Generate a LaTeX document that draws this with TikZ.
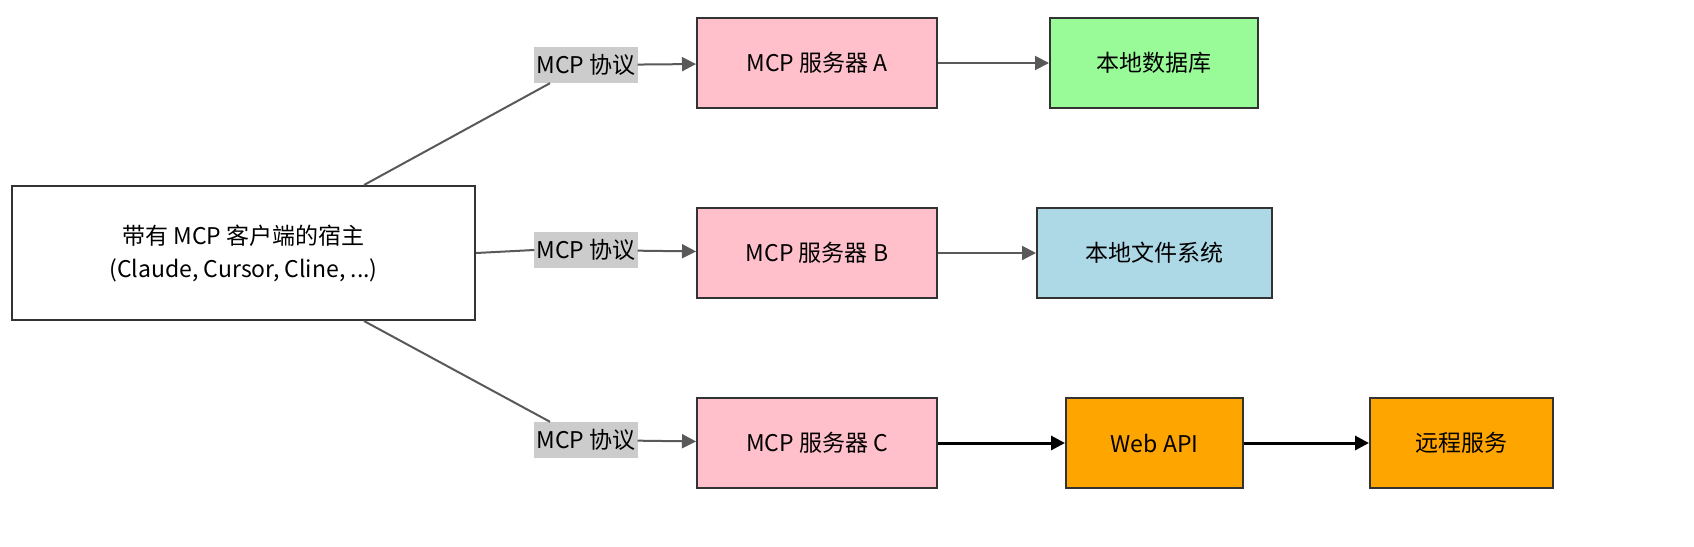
\documentclass[tikz,border=0pt]{standalone}
\usepackage{fontspec}
\setmainfont{Noto Sans CJK SC}
\usetikzlibrary{arrows.meta}
\definecolor{myorange}{HTML}{FFA500}
\definecolor{mypink}{HTML}{FFC0CB}
\definecolor{mygreen}{HTML}{98FB98}
\definecolor{myblue}{HTML}{ADD8E6}
\begin{document}
\begin{tikzpicture}[x=1pt,y=-1pt,
 box/.style={draw=black!80,line width=2pt,minimum height=90pt,align=center,font=\fontsize{23}{33}\selectfont,inner sep=0pt},
 lab/.style={fill=black!20,inner sep=2pt,font=\fontsize{23}{26}\selectfont,minimum height=36pt},
 con/.style={draw=black!65,line width=2pt},
 arr/.style={con,-{Triangle[length=14pt,width=14pt]}},
 barr/.style={draw=black,line width=3pt,-{Triangle[length=14pt,width=14pt]}}]
\node[box,fill=white,minimum width=463pt,minimum height=134pt] (h) at (243.5,253) {带有 MCP 客户端的宿主\\(Claude, Cursor, Cline, ...)};
\node[box,fill=mypink,minimum width=240pt] (a) at (817,63) {MCP 服务器 A};
\node[box,fill=mypink,minimum width=240pt] (b) at (817,253) {MCP 服务器 B};
\node[box,fill=mypink,minimum width=240pt] (c) at (817,443) {MCP 服务器 C};
\node[box,fill=mygreen,minimum width=208pt] (d) at (1154,63) {本地数据库};
\node[box,fill=myblue,minimum width=235pt] (f) at (1154.5,253) {本地文件系统};
\node[box,fill=myorange,minimum width=177pt] (w) at (1154.5,443) {Web API};
\node[box,fill=myorange,minimum width=183pt] (r) at (1461.5,443) {远程服务};
\node[lab] (l1) at (586,65) {MCP 协议};
\node[lab] (l2) at (586,250) {MCP 协议};
\node[lab] (l3) at (586,440) {MCP 协议};
\draw[con] ([xshift=353pt]h.north west) -- ([xshift=-36pt]l1.south);
\draw[con] (h.east) -- (l2.west);
\draw[con] ([xshift=353pt]h.south west) -- ([xshift=-36pt]l3.north);
\draw[arr] (l1) -- (a);
\draw[arr] (l2) -- (b);
\draw[arr] (l3) -- (c);
\draw[arr] (a) -- (d);
\draw[arr] (b) -- (f);
\draw[barr] (c) -- (w);
\draw[barr] (w) -- (r);
\pgfresetboundingbox
\useasboundingbox (0,0) rectangle (1694,546);
\end{tikzpicture}
\end{document}
